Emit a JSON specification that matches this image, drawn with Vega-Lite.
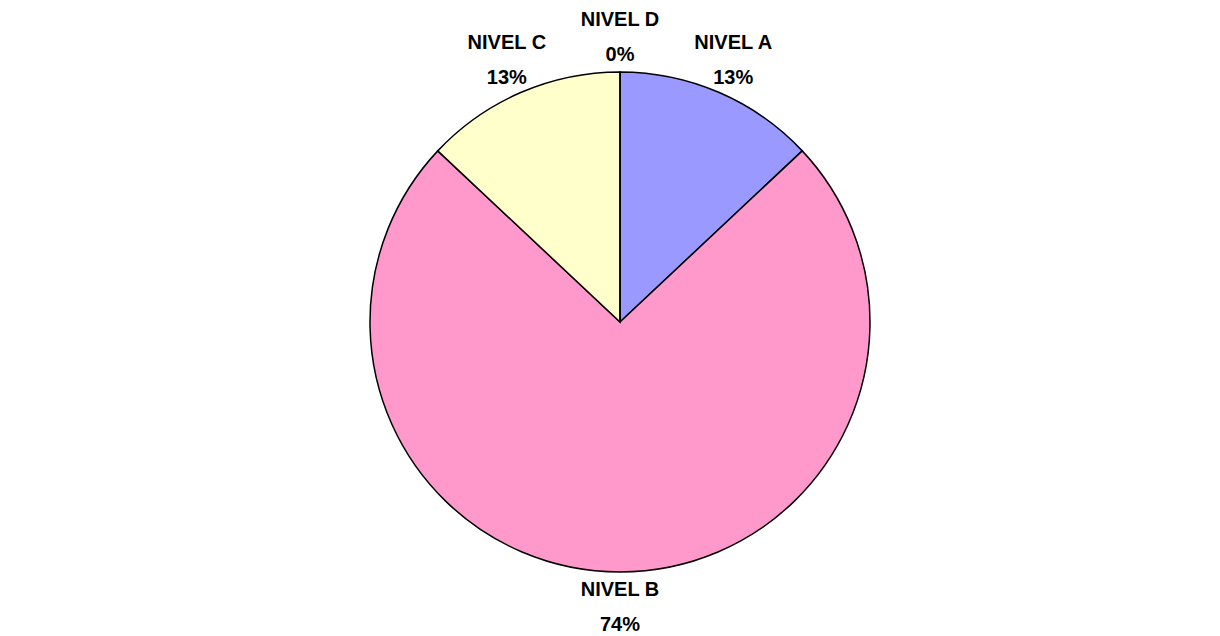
{
  "$schema": "https://vega.github.io/schema/vega-lite/v6.json",
  "width": 1220,
  "height": 636,
  "autosize": {"type": "fit", "contains": "padding"},
  "padding": {"left": 20, "top": 8, "right": 0, "bottom": 0},
  "background": "white",
  "config": {"view": {"stroke": null}},
  "data": {
    "values": [
      {"nivel": "NIVEL A", "value": 13, "label": "NIVEL A\n13%"},
      {"nivel": "NIVEL B", "value": 74, "label": "NIVEL B\n74%"},
      {"nivel": "NIVEL C", "value": 13, "label": "NIVEL C\n13%"},
      {"nivel": "NIVEL D", "value": 0, "label": "NIVEL D\n0%"}
    ]
  },
  "encoding": {
    "theta": {"field": "value", "type": "quantitative", "stack": true},
    "order": {"field": "nivel", "type": "nominal"}
  },
  "layer": [
    {
      "mark": {"type": "arc", "outerRadius": 250, "stroke": "black", "strokeWidth": 1.5},
      "encoding": {
        "color": {
          "field": "nivel",
          "type": "nominal",
          "scale": {
            "domain": ["NIVEL A", "NIVEL B", "NIVEL C", "NIVEL D"],
            "range": ["#9999FF", "#FF99CC", "#FFFFCC", "#99CCFF"]
          },
          "legend": null
        }
      }
    },
    {
      "mark": {
        "type": "text",
        "radius": 285,
        "dy": -17,
        "font": "Liberation Sans",
        "fontWeight": "bold",
        "fontSize": 20,
        "lineBreak": "\n",
        "lineHeight": 35,
        "baseline": "middle",
        "align": "center",
        "color": "black"
      },
      "encoding": {
        "text": {"field": "label", "type": "nominal"}
      }
    }
  ]
}
